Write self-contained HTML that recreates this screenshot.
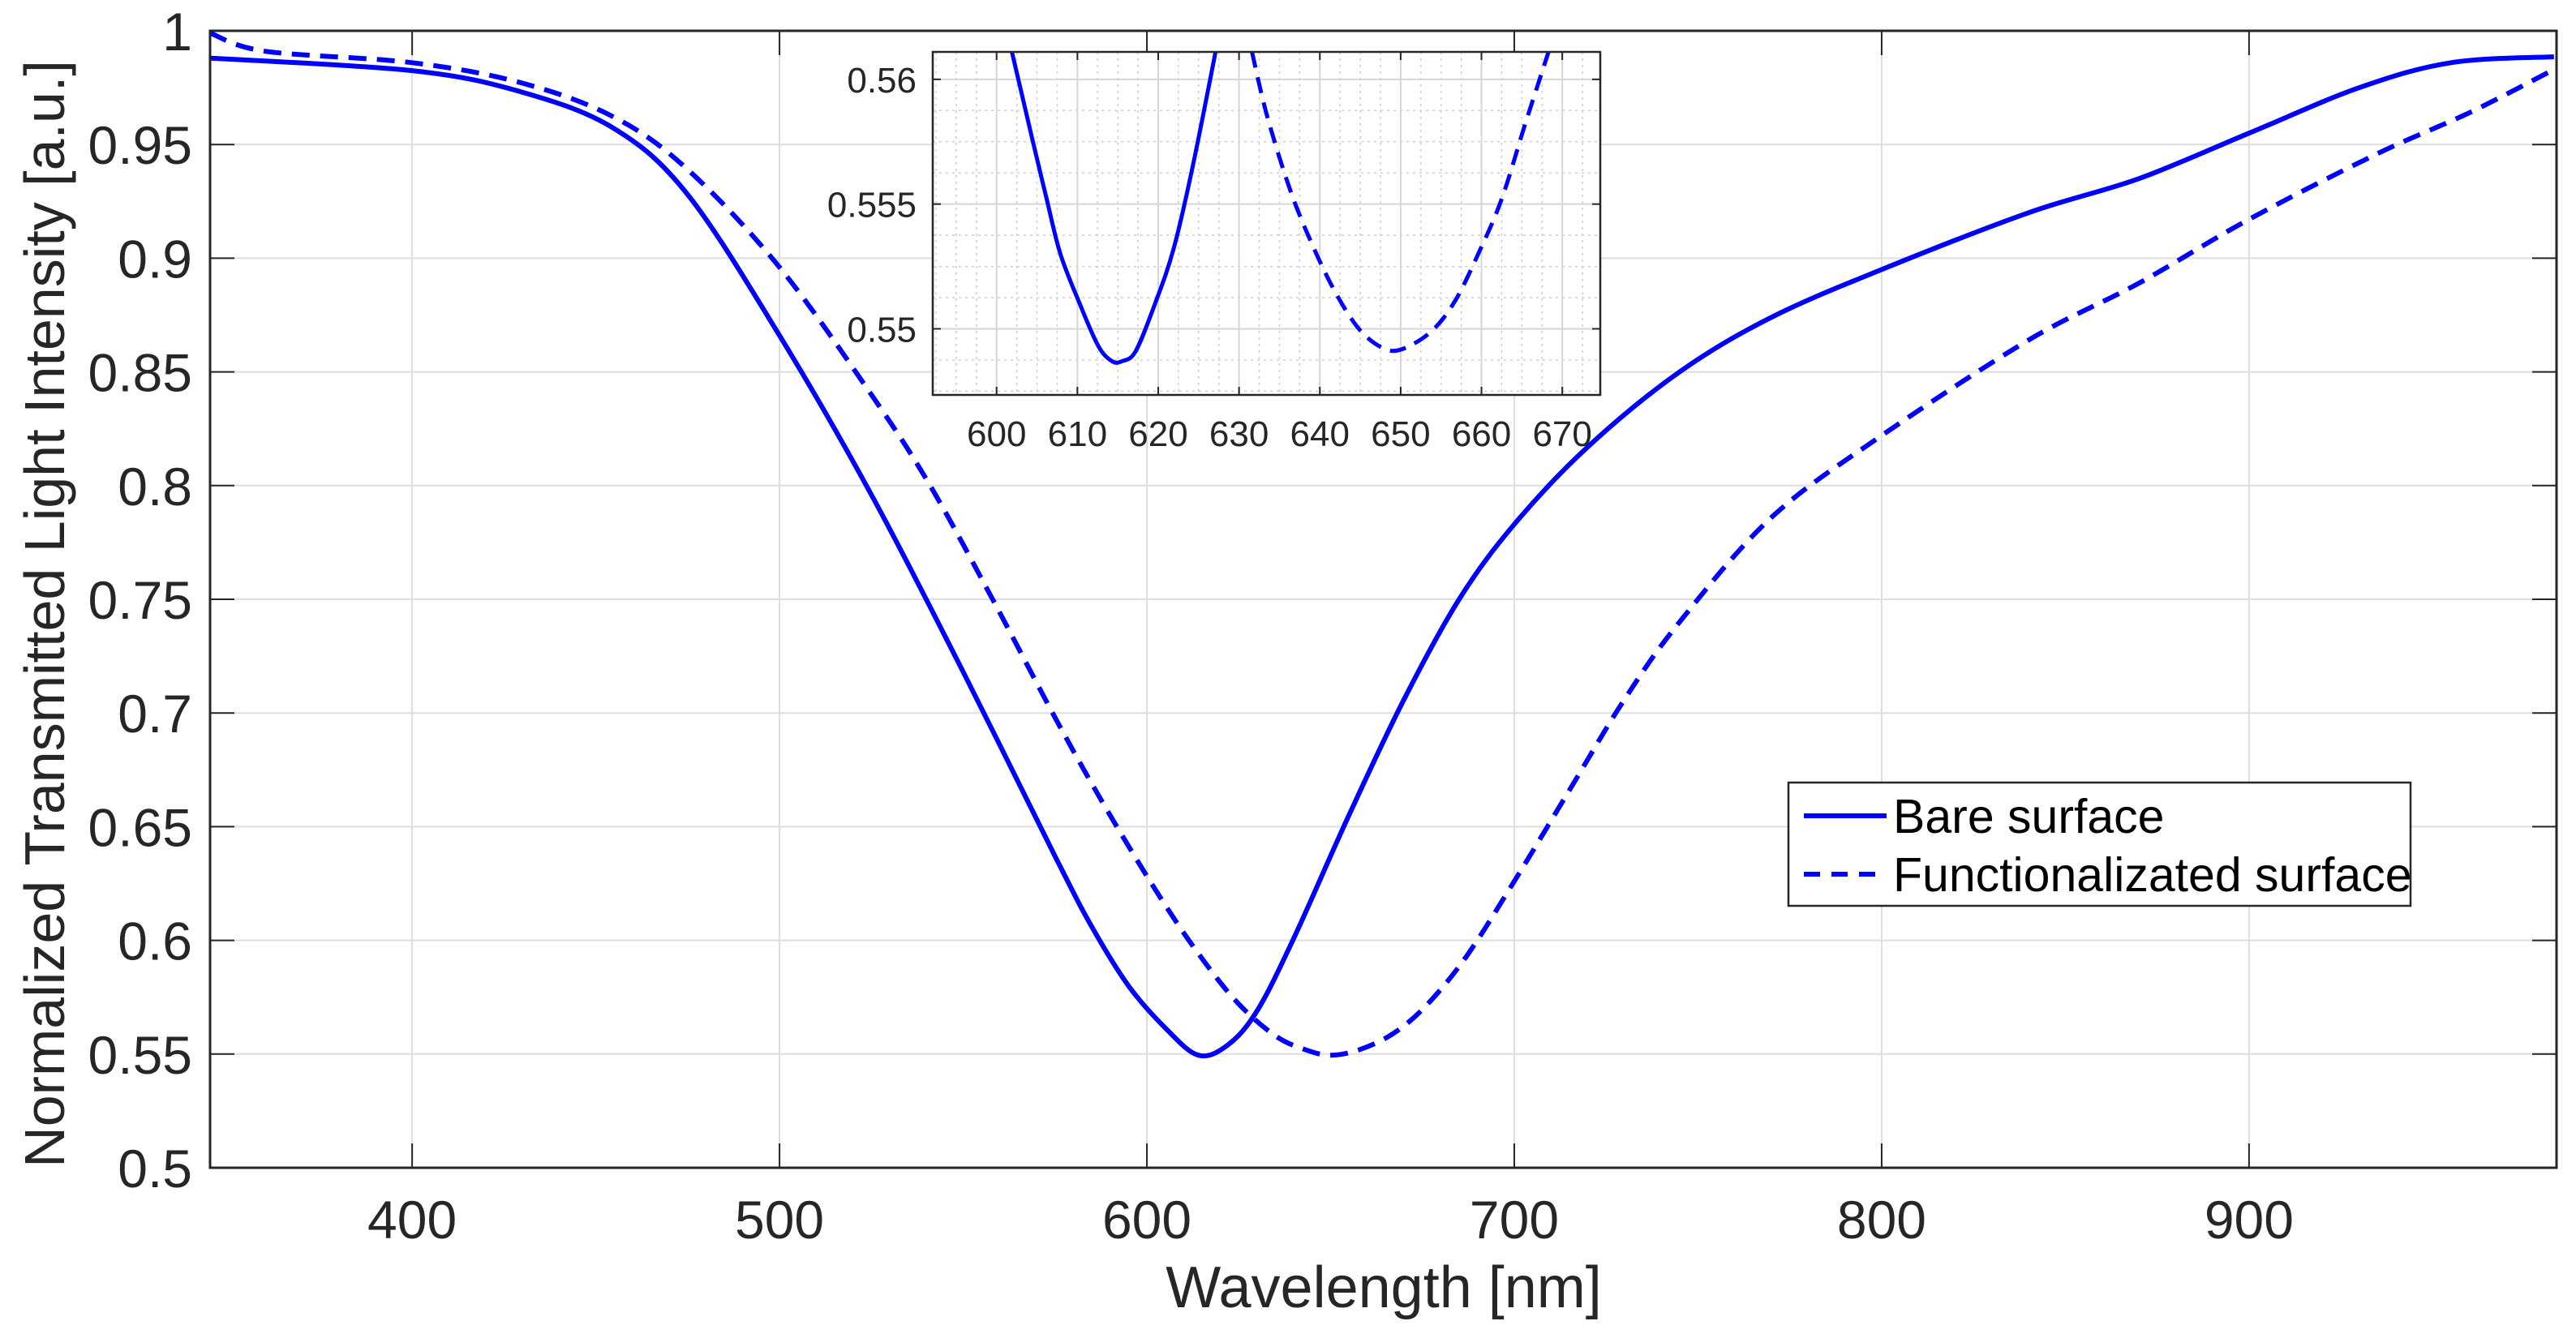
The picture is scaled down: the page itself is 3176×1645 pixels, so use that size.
<!DOCTYPE html>
<html><head><meta charset="utf-8">
<style>
html,body{margin:0;padding:0;background:#fff;}
svg{display:block;font-family:"Liberation Sans",Arial,sans-serif;}
</style></head>
<body>
<svg id="chart" width="3176" height="1645" viewBox="0 0 3176 1645" xmlns="http://www.w3.org/2000/svg">
<defs>
<clipPath id="mainClip"><rect x="259" y="38" width="2893" height="1402"/></clipPath>
<clipPath id="insetClip"><rect x="1150" y="64" width="823" height="423"/></clipPath>
</defs>
<rect x="0" y="0" width="3176" height="1645" fill="#fff"/>
<g id="mainGrid"></g>
<g id="mainCurves" clip-path="url(#mainClip)"></g>
<g id="mainAxes"></g>
<g id="inset"></g>
<g id="legend"></g>
<text x="1706" y="1612" font-size="72" fill="#262626" text-anchor="middle">Wavelength [nm]</text>
<text x="0" y="0" font-size="70" fill="#262626" text-anchor="middle" transform="translate(79,757) rotate(-90)">Normalized Transmitted Light Intensity [a.u.]</text>
</svg>
<script>
// ---- data ----
const bareWl = [345,400,430,455,475,500,525,550,575,585,595,605,614,622,630,640,655,670,685,700,720,745,770,800,840,870,900,930,955,983];
const bareVal = [0.988,0.9825,0.973,0.957,0.928,0.866,0.796,0.718,0.637,0.606,0.580,0.5615,0.5495,0.554,0.569,0.601,0.655,0.706,0.750,0.783,0.817,0.850,0.874,0.895,0.920,0.935,0.955,0.975,0.986,0.9886];
const funcWl = [345,360,400,430,455,475,500,525,541,558,576,590,604,615,625,635,643,650,658,667,676,687,700,715,730,745,770,800,840,870,900,935,960,983];
const funcVal = [0.999,0.991,0.986,0.977,0.962,0.939,0.896,0.84,0.8,0.75,0.695,0.655,0.618,0.592,0.572,0.558,0.552,0.5495,0.552,0.559,0.5713,0.593,0.626,0.666,0.706,0.740,0.786,0.822,0.864,0.889,0.9171,0.946,0.964,0.983];
const insetBareWl = [601.9,604.5,606.2,607.9,610.3,612.6,614.3,615.5,617.2,619.6,621.9,624.2,627.1];
const insetBareVal = [0.5611,0.5575,0.5552,0.5530,0.5510,0.5493,0.5487,0.5487,0.5491,0.5510,0.5532,0.5564,0.5611];
const insetFuncWl = [631.6,633.5,636.4,639.3,642.2,645.1,648,650.3,653.8,656.7,659.6,662.5,665.4,668.3];
const insetFuncVal = [0.5611,0.5585,0.5555,0.5532,0.5513,0.5499,0.5492,0.5492,0.5499,0.5511,0.5530,0.5552,0.5582,0.5611];
const xTicks = [400,500,600,700,800,900];
const yTicks = [0.5,0.55,0.6,0.65,0.7,0.75,0.8,0.85,0.9,0.95,1];
const yTickLabels = ["0.5","0.55","0.6","0.65","0.7","0.75","0.8","0.85","0.9","0.95","1"];
const insetXTicks = [600,610,620,630,640,650,660,670];
const insetYTicks = [0.55,0.555,0.56];
const insetYTickLabels = ["0.55","0.555","0.56"];
const seriesNames = ["Bare surface","Functionalizated surface"];

const NS = "http://www.w3.org/2000/svg";
function mk(tag, attrs, parent){const e=document.createElementNS(NS,tag);for(const k in attrs)e.setAttribute(k,attrs[k]);parent.appendChild(e);return e;}

const M = {l:259,r:3152,t:38,b:1440,x0:345,x1:983.7,y0:0.5,y1:1};
const mx = v => M.l + (v-M.x0)/(M.x1-M.x0)*(M.r-M.l);
const my = v => M.b - (v-M.y0)/(M.y1-M.y0)*(M.b-M.t);
const I = {l:1150,r:1973,t:64,b:487,x0:592.1,x1:674.7,y0:0.54735,y1:0.5611};
const ix = v => I.l + (v-I.x0)/(I.x1-I.x0)*(I.r-I.l);
const iy = v => I.b - (v-I.y0)/(I.y1-I.y0)*(I.b-I.t);

function smoothPath(xs, ys, fx, fy){
  const p = xs.map((x,i)=>[fx(x),fy(ys[i])]);
  let d = "M"+p[0][0].toFixed(1)+","+p[0][1].toFixed(1);
  for(let i=0;i<p.length-1;i++){
    const p0=p[i-1]||p[i], p1=p[i], p2=p[i+1], p3=p[i+2]||p[i+1];
    const c1=[p1[0]+(p2[0]-p0[0])/6, p1[1]+(p2[1]-p0[1])/6];
    const c2=[p2[0]-(p3[0]-p1[0])/6, p2[1]-(p3[1]-p1[1])/6];
    d += " C"+c1[0].toFixed(1)+","+c1[1].toFixed(1)+" "+c2[0].toFixed(1)+","+c2[1].toFixed(1)+" "+p2[0].toFixed(1)+","+p2[1].toFixed(1);
  }
  return d;
}

const gG = document.getElementById("mainGrid");
xTicks.forEach(t=>{
  const l = mk("line",{x1:mx(t),x2:mx(t),y1:M.t,y2:M.b,stroke:"#dedede","stroke-width":2},gG);
  
  
});
yTicks.forEach(t=>{
  const l = mk("line",{x1:M.l,x2:M.r,y1:my(t),y2:my(t),stroke:"#dedede","stroke-width":2},gG);
  
  
});

const gC = document.getElementById("mainCurves");
const pb = mk("path",{d:smoothPath(bareWl,bareVal,mx,my),fill:"none",stroke:"#0000ff","stroke-width":6,"stroke-linejoin":"round"},gC);


const pf = mk("path",{d:smoothPath(funcWl,funcVal,mx,my),fill:"none",stroke:"#0000ff","stroke-width":6,"stroke-dasharray":"22 13"},gC);



const gA = document.getElementById("mainAxes");
const box = mk("rect",{x:M.l,y:M.t,width:M.r-M.l,height:M.b-M.t,fill:"none",stroke:"#262626","stroke-width":3},gA);


xTicks.forEach(t=>{
  mk("line",{x1:mx(t),x2:mx(t),y1:M.b,y2:M.b-30,stroke:"#262626","stroke-width":2},gA);
  mk("line",{x1:mx(t),x2:mx(t),y1:M.t,y2:M.t+30,stroke:"#262626","stroke-width":2},gA);
  const tx = mk("text",{x:mx(t),y:1527,"font-size":66,fill:"#262626","text-anchor":"middle"},gA);
  tx.textContent = t;
  
  
});
yTicks.forEach((t,i)=>{
  mk("line",{x1:M.l,x2:M.l+30,y1:my(t),y2:my(t),stroke:"#262626","stroke-width":2},gA);
  mk("line",{x1:M.r,x2:M.r-30,y1:my(t),y2:my(t),stroke:"#262626","stroke-width":2},gA);
  const tx = mk("text",{x:237,y:my(t)+24,"font-size":66,fill:"#262626","text-anchor":"end"},gA);
  tx.textContent = yTickLabels[i];
  
  
});

const gI = document.getElementById("inset");
mk("rect",{x:I.l,y:I.t,width:I.r-I.l,height:I.b-I.t,fill:"#fff"},gI);
for(let v=592.5; v<=674.7; v+=2.5){
  if(Math.abs(v/10-Math.round(v/10))<1e-6) continue;
  const l = mk("line",{x1:ix(v),x2:ix(v),y1:I.t,y2:I.b,stroke:"#cfcfcf","stroke-width":1.5,"stroke-dasharray":"3 5"},gI);
  
  
}
for(let k=-2;k<=12;k++){
  const v = 0.5475 + k*0.00125;
  if(v<I.y0||v>I.y1) continue;
  if(Math.abs(v/0.005-Math.round(v/0.005))<1e-6) continue;
  const l = mk("line",{x1:I.l,x2:I.r,y1:iy(v),y2:iy(v),stroke:"#cfcfcf","stroke-width":1.5,"stroke-dasharray":"3 5"},gI);
  
  
}
insetXTicks.forEach(t=>{
  const l = mk("line",{x1:ix(t),x2:ix(t),y1:I.t,y2:I.b,stroke:"#d6d6d6","stroke-width":2},gI);
  
  
});
insetYTicks.forEach(t=>{
  const l = mk("line",{x1:I.l,x2:I.r,y1:iy(t),y2:iy(t),stroke:"#d6d6d6","stroke-width":2},gI);
  
  
});
const gIC = mk("g",{"clip-path":"url(#insetClip)"},gI);
const ib = mk("path",{d:smoothPath(insetBareWl,insetBareVal,ix,iy),fill:"none",stroke:"#0000ff","stroke-width":5,"stroke-linejoin":"round"},gIC);


const ifn = mk("path",{d:smoothPath(insetFuncWl,insetFuncVal,ix,iy),fill:"none",stroke:"#0000ff","stroke-width":5,"stroke-dasharray":"20 12"},gIC);


const ibox = mk("rect",{x:I.l,y:I.t,width:I.r-I.l,height:I.b-I.t,fill:"none",stroke:"#262626","stroke-width":2.5},gI);


insetXTicks.forEach(t=>{
  mk("line",{x1:ix(t),x2:ix(t),y1:I.b,y2:I.b-10,stroke:"#262626","stroke-width":2},gI);
  mk("line",{x1:ix(t),x2:ix(t),y1:I.t,y2:I.t+10,stroke:"#262626","stroke-width":2},gI);
  const tx = mk("text",{x:ix(t),y:550,"font-size":44,fill:"#262626","text-anchor":"middle"},gI);
  tx.textContent = t;
  
  
});
insetYTicks.forEach((t,i)=>{
  mk("line",{x1:I.l,x2:I.l+10,y1:iy(t),y2:iy(t),stroke:"#262626","stroke-width":2},gI);
  mk("line",{x1:I.r,x2:I.r-10,y1:iy(t),y2:iy(t),stroke:"#262626","stroke-width":2},gI);
  const tx = mk("text",{x:1130,y:iy(t)+16,"font-size":44,fill:"#262626","text-anchor":"end"},gI);
  tx.textContent = insetYTickLabels[i];
  
  
});

const gL = document.getElementById("legend");
const lb = mk("rect",{x:2205,y:965,width:767,height:152,fill:"#fff",stroke:"#262626","stroke-width":2.5},gL);


const rows = [1006,1078];
seriesNames.forEach((n,i)=>{
  const ln = mk("line",{x1:2224,x2:2326,y1:rows[i],y2:rows[i],stroke:"#0000ff","stroke-width":6},gL);
  if(i===1) ln.setAttribute("stroke-dasharray","20 14");
  
  
  const tx = mk("text",{x:2334,y:rows[i]+21,"font-size":59,fill:"#000"},gL);
  tx.textContent = n;
  
  
});
</script>
</body></html>
